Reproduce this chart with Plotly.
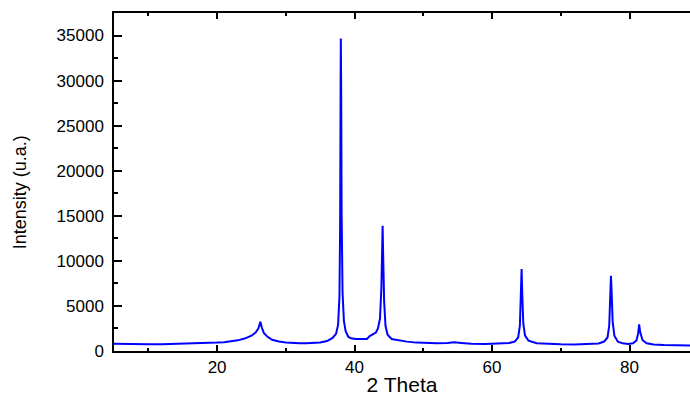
import plotly.graph_objects as go

two_theta = [5.0, 6.0, 8.0, 10.0, 12.0, 14.0, 16.0, 18.0, 20.0, 21.0, 22.0, 23.0, 24.0, 25.0,
             25.6, 26.0, 26.3, 26.5, 26.8, 27.3, 28.0, 29.0, 30.0, 31.0, 32.0, 33.0, 34.0,
             35.0, 36.0, 36.8, 37.3, 37.6, 37.8, 37.9, 37.97, 38.0, 38.05, 38.12, 38.25,
             38.45, 38.7, 39.1, 39.6, 40.3, 41.0, 41.8, 42.2, 42.7, 43.1, 43.4, 43.7, 43.9,
             44.0, 44.08, 44.15, 44.3, 44.5, 44.8, 45.4, 46.5, 47.6, 49.0, 50.5, 52.0, 53.5,
             54.5, 55.5, 57.0, 59.0, 61.0, 62.5, 63.3, 63.8, 64.05, 64.2, 64.3, 64.4, 64.55,
             64.8, 65.3, 66.5, 68.0, 70.0, 72.0, 74.0, 75.5, 76.3, 76.8, 77.05, 77.2, 77.3,
             77.4, 77.55, 77.8, 78.3, 79.0, 79.8, 80.5, 81.0, 81.25, 81.4, 81.55, 81.7, 81.9,
             82.5, 83.5, 85.0, 87.0, 88.8]
intensity = [800, 780, 760, 740, 760, 790, 820, 870, 930, 980, 1060, 1180, 1380, 1700,
             2050, 2500, 3250, 2600, 2000, 1600, 1250, 1050, 950, 880, 850, 850, 870,
             940, 1100, 1450, 1900, 2900, 6000, 14000, 30000, 34670, 29000, 15000, 6500,
             3300, 2200, 1550, 1380, 1320, 1300, 1340, 1650, 1850, 2050, 2500, 3600, 7000,
             11500, 13900, 11000, 5500, 2800, 1800, 1330, 1150, 1040, 930, 880, 860, 900,
             960, 900, 810, 790, 800, 880, 1050, 1500, 2800, 6000, 9100, 6200, 3000,
             1700, 1150, 860, 780, 740, 730, 760, 840, 1050, 1500, 2800, 6000, 8350,
             6500, 3200, 1700, 1030, 850, 780, 860, 1150, 1900, 2950, 2100, 1600, 1200,
             850, 720, 660, 630, 620]

x_ticks = [20, 40, 60, 80]
y_ticks = [0, 5000, 10000, 15000, 20000, 25000, 30000, 35000]

font_family = "Liberation Sans, Arial, sans-serif"

fig = go.Figure(go.Scatter(x=two_theta, y=intensity, mode="lines",
                           line=dict(color="#0000FF", width=2), hoverinfo="skip"))

fig.update_layout(
    width=690, height=396,
    margin=dict(l=114, r=0, t=13, b=45),
    paper_bgcolor="white", plot_bgcolor="white",
    showlegend=False,
    font=dict(family=font_family, color="#000000"),
    annotations=[dict(text="Intensity (u.a.)", textangle=-90, xref="paper", yref="paper",
                      x=-0.163, y=0.47, xanchor="center", yanchor="middle", showarrow=False,
                      font=dict(size=18, family=font_family))],
)
fig.update_xaxes(
    range=[5, 88.8], tickvals=x_ticks, ticks="inside", ticklen=6, tickwidth=2,
    tickcolor="black", showline=True, linecolor="black", linewidth=1.5,
    mirror="ticks", showgrid=False, zeroline=False, automargin=False,
    tickfont=dict(size=17, family=font_family),
    minor=dict(dtick=10, tick0=0, ticks="inside", ticklen=3, tickwidth=1.5, tickcolor="black"),
    title=dict(text="2 Theta", font=dict(size=21, family=font_family), standoff=9),
)
fig.update_yaxes(
    range=[0, 37500], tickvals=y_ticks, tickformat="d", ticks="inside", ticklen=8,
    tickwidth=1.5, tickcolor="black", showline=True, linecolor="black", linewidth=1.5,
    mirror=False, showgrid=False, zeroline=False, automargin=False,
    tickfont=dict(size=17, family=font_family), ticklabelstandoff=5,
    minor=dict(dtick=2500, tick0=0, ticks="inside", ticklen=4, tickwidth=1.5, tickcolor="black"),
)

fig.write_html("out.html", config={"displayModeBar": False},
               post_script="document.body.style.margin='0';document.body.style.overflow='hidden';")
